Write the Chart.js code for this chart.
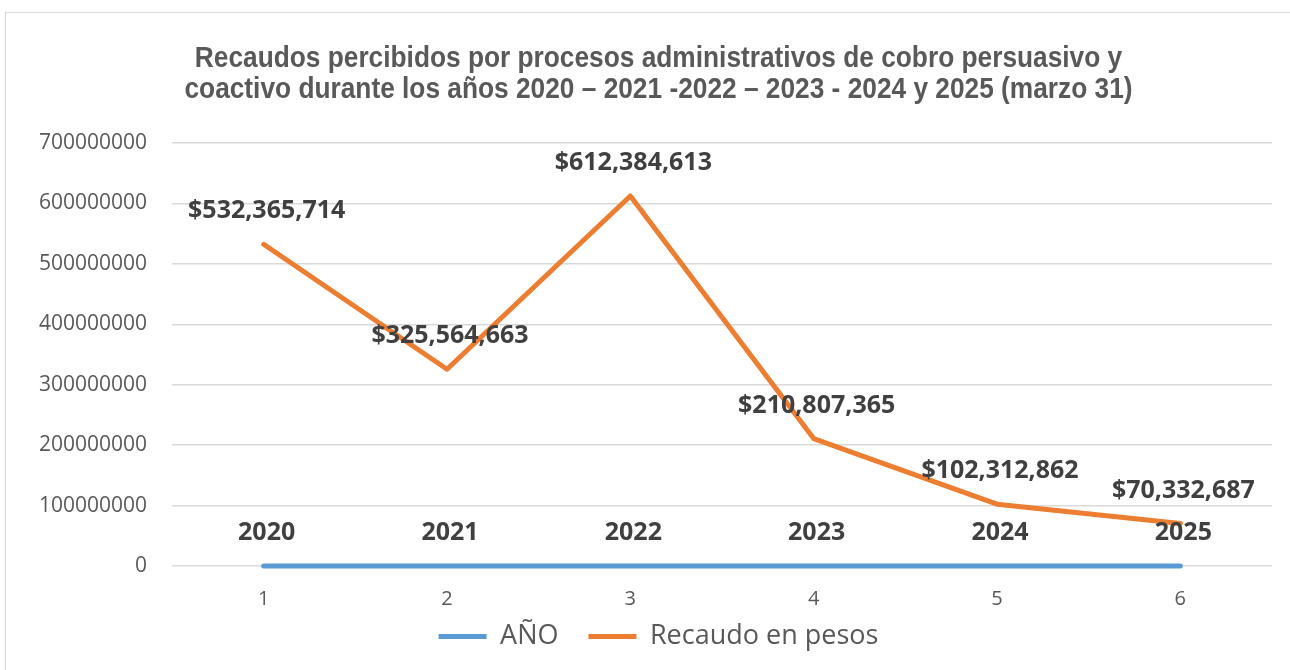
<!DOCTYPE html>
<html>
<head>
<meta charset="utf-8">
<script src="https://cdn.jsdelivr.net/npm/chart.js@4"></script>
<style>
  html, body { margin: 0; padding: 0; background: #fff; overflow: hidden; }
  #chartBox {
    position: absolute; left: 5px; top: 12px;
    width: 1305px; height: 658px;
    border-top: 1px solid #d9d9d9; border-left: 1px solid #d9d9d9;
  }
</style>
</head>
<body>
<div id="chartBox"><canvas id="myChart"></canvas></div>
<script>
// categories + series
const categories = ["1", "2", "3", "4", "5", "6"]
const anioValues = [2020, 2021, 2022, 2023, 2024, 2025]
const recaudoValues = [532365714, 325564663, 612384613, 210807365, 102312862, 70332687]
const titleLines = [
  "Recaudos percibidos por procesos administrativos de cobro persuasivo y",
  "coactivo durante los años 2020 – 2021 -2022 – 2023 - 2024 y 2025 (marzo 31)"
]

const grayText = "#595959"
const labelColor = "#404040"

// condensed bold title (no narrow font installed, so squeeze it)
const narrowTitle = {
  id: "narrowTitle",
  afterDraw(chart) {
    const ctx = chart.ctx
    ctx.save()
    ctx.font = "bold 30px 'Liberation Sans'"
    ctx.fillStyle = grayText
    ctx.textAlign = "center"
    ctx.textBaseline = "alphabetic"
    const squeeze = 0.876
    ctx.scale(squeeze, 1)
    titleLines.forEach((line, i) => {
      ctx.fillText(line, (chart.width / 2) / squeeze, 54 + i * 31)
    })
    ctx.restore()
  }
}

// category numbers under the axis (the x scale box is kept thin so the legend sits close)
const xTickText = {
  id: "xTickText",
  afterDraw(chart) {
    const ctx = chart.ctx
    const xs = chart.scales.x
    ctx.save()
    ctx.font = "20px 'Open Sans'"
    ctx.fillStyle = grayText
    ctx.textAlign = "center"
    ctx.textBaseline = "middle"
    categories.forEach((c, i) => {
      ctx.fillText(c, xs.getPixelForTick(i), xs.top + 33)
    })
    ctx.restore()
  }
}

// writes the value text above every point of each line
const pointLabels = {
  id: "pointLabels",
  afterDatasetsDraw(chart) {
    const ctx = chart.ctx
    ctx.save()
    ctx.font = "bold 25px 'Open Sans'"
    ctx.fillStyle = labelColor
    ctx.textAlign = "center"
    ctx.textBaseline = "middle"
    chart.data.datasets.forEach((ds, i) => {
      const meta = chart.getDatasetMeta(i)
      meta.data.forEach((pt, j) => {
        let v = ds.data[j]
        let txt = ds.isMoney ? "$" + v.toLocaleString("en-US") : String(v)
        ctx.fillText(txt, pt.x + 3, pt.y - 33)
      })
    })
    ctx.restore()
  }
}

const ctx = document.getElementById("myChart").getContext("2d")
const myChart = new Chart(ctx, {
  type: "line",
  data: {
    labels: categories,
    datasets: [{
      label: "AÑO",
      data: anioValues,
      borderColor: "#5B9BD5",
      backgroundColor: "#5B9BD5",
      borderWidth: 5,
      pointRadius: 0,
      borderCapStyle: "round",
      clip: false,
      isMoney: false
    }, {
      label: "Recaudo en pesos",
      data: recaudoValues,
      borderColor: "#ED7D31",
      backgroundColor: "#ED7D31",
      borderWidth: 5,
      pointRadius: 0,
      borderCapStyle: "round",
      borderJoinStyle: "round",
      clip: false,
      isMoney: true
    }]
  },
  options: {
    responsive: true,
    maintainAspectRatio: false,
    animation: false,
    layout: { padding: { left: 0, right: 0, top: 130, bottom: 11 } },
    plugins: {
      tooltip: { enabled: false },
      title: { display: false },
      legend: {
        position: "bottom",
        labels: {
          color: grayText,
          font: { family: "'Open Sans'", size: 27 },
          boxWidth: 48,
          boxHeight: 5,
          padding: 30,
          generateLabels(chart) {
            const items = Chart.defaults.plugins.legend.labels.generateLabels(chart)
            return items.map(it => { it.lineWidth = 0; it.fillStyle = it.strokeStyle; return it })
          }
        }
      }
    },
    scales: {
      x: {
        offset: true,
        grid: { display: false, drawTicks: false },
        border: { display: false },
        ticks: { display: false, autoSkip: false },
        afterFit(scale) { scale.height = 27 }
      },
      y: {
        min: 0,
        max: 700000000,
        ticks: {
          stepSize: 100000000,
          color: grayText,
          font: { family: "'Open Sans'", size: 21 },
          padding: 25,
          callback: v => String(v)
        },
        grid: { color: "#d9d9d9", lineWidth: 1.5, drawTicks: false },
        border: { display: false },
        afterFit(scale) { scale.width = 166 }
      },
      // empty strip on the right side of the plot
      yRight: {
        position: "right",
        min: 0,
        max: 1,
        ticks: { display: false },
        grid: { display: false, drawTicks: false },
        border: { display: false },
        afterFit(scale) { scale.width = 39 }
      }
    }
  },
  plugins: [pointLabels, narrowTitle, xTickText]
})
</script>
</body>
</html>
